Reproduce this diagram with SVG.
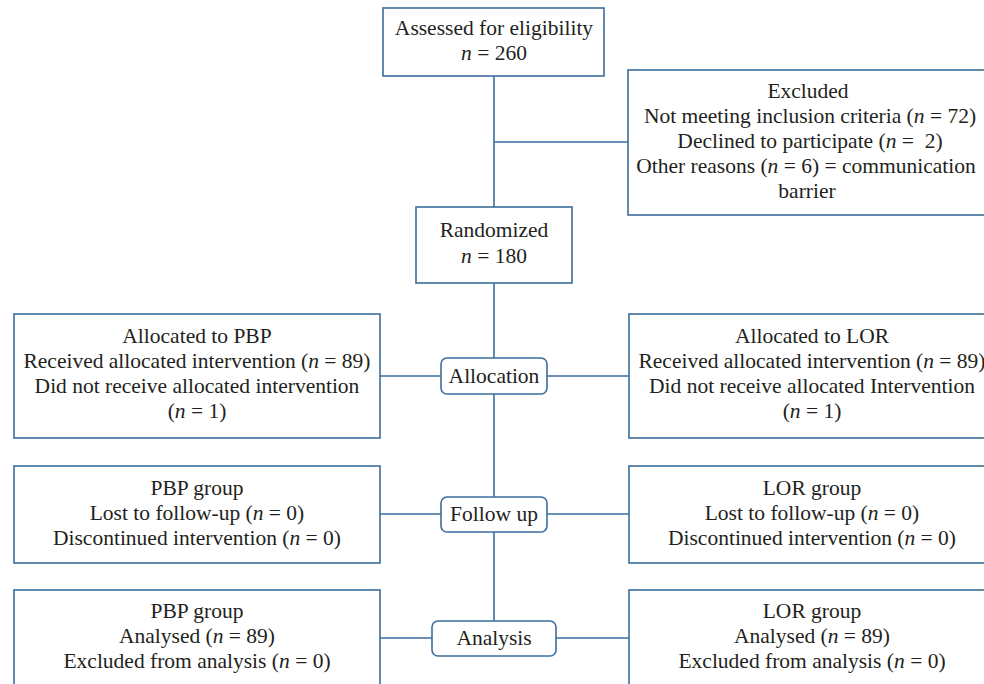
<svg xmlns="http://www.w3.org/2000/svg" width="984" height="684" viewBox="0 0 984 684">
<style>
.box{fill:#fff;stroke:#3b6e9c;stroke-width:1.6}
.pill{fill:#fff;stroke:#3b6e9c;stroke-width:1.6}
.ln{stroke:#3b6e9c;stroke-width:1.6;fill:none}
text{font-family:"Liberation Serif","Times New Roman",serif;font-size:21.5px;fill:#231f20;text-anchor:middle}
.i{font-style:italic}
</style>
<rect width="984" height="684" fill="#fff"/>
<g id="connectors">
<line class="ln" x1="494" y1="76" x2="494" y2="207"/>
<line class="ln" x1="494" y1="142" x2="628" y2="142"/>
<line class="ln" x1="494" y1="283" x2="494" y2="358"/>
<line class="ln" x1="494" y1="394" x2="494" y2="497"/>
<line class="ln" x1="494" y1="532" x2="494" y2="621"/>
<line class="ln" x1="380" y1="376" x2="441" y2="376"/>
<line class="ln" x1="547" y1="376" x2="629" y2="376"/>
<line class="ln" x1="380" y1="514" x2="441" y2="514"/>
<line class="ln" x1="547" y1="514" x2="629" y2="514"/>
<line class="ln" x1="380" y1="638" x2="432" y2="638"/>
<line class="ln" x1="556" y1="638" x2="629" y2="638"/>
</g>
<g id="assessed">
<rect class="box" x="383" y="8" width="221" height="68"/>
<text x="494" y="35">Assessed for eligibility</text>
<text x="494" y="60"><tspan class="i">n</tspan> = 260</text>
</g>
<g id="excluded">
<rect class="box" x="628" y="70" width="366" height="145"/>
<text x="808" y="98">Excluded</text>
<text x="810" y="123">Not meeting inclusion criteria (<tspan class="i">n</tspan> = 72)</text>
<text x="810" y="148">Declined to participate (<tspan class="i">n</tspan> =&#160; 2)</text>
<text x="806" y="173">Other reasons (<tspan class="i">n</tspan> = 6) = communication</text>
<text x="807" y="198">barrier</text>
</g>
<g id="randomized">
<rect class="box" x="416" y="207" width="156" height="76"/>
<text x="494" y="237">Randomized</text>
<text x="494" y="263"><tspan class="i">n</tspan> = 180</text>
</g>
<g id="alloc-pbp">
<rect class="box" x="14" y="314" width="366" height="124"/>
<text x="197" y="343">Allocated to PBP</text>
<text x="197" y="368">Received allocated intervention (<tspan class="i">n</tspan> = 89)</text>
<text x="197" y="393">Did not receive allocated intervention</text>
<text x="197" y="418">(<tspan class="i">n</tspan> = 1)</text>
</g>
<g id="allocation">
<rect class="pill" x="441" y="358" width="106" height="36" rx="6"/>
<text x="494" y="383">Allocation</text>
</g>
<g id="alloc-lor">
<rect class="box" x="629" y="314" width="366" height="124"/>
<text x="812" y="343">Allocated to LOR</text>
<text x="812" y="368">Received allocated intervention (<tspan class="i">n</tspan> = 89)</text>
<text x="812" y="393">Did not receive allocated Intervention</text>
<text x="812" y="418">(<tspan class="i">n</tspan> = 1)</text>
</g>
<g id="follow-pbp">
<rect class="box" x="14" y="466" width="366" height="97"/>
<text x="197" y="495">PBP group</text>
<text x="197" y="520">Lost to follow-up (<tspan class="i">n</tspan> = 0)</text>
<text x="197" y="545">Discontinued intervention (<tspan class="i">n</tspan> = 0)</text>
</g>
<g id="followup">
<rect class="pill" x="441" y="497" width="106" height="35" rx="6"/>
<text x="494" y="521">Follow up</text>
</g>
<g id="follow-lor">
<rect class="box" x="629" y="466" width="366" height="97"/>
<text x="812" y="495">LOR group</text>
<text x="812" y="520">Lost to follow-up (<tspan class="i">n</tspan> = 0)</text>
<text x="812" y="545">Discontinued intervention (<tspan class="i">n</tspan> = 0)</text>
</g>
<g id="analysis-pbp">
<rect class="box" x="14" y="590" width="366" height="110"/>
<text x="197" y="618">PBP group</text>
<text x="197" y="643">Analysed (<tspan class="i">n</tspan> = 89)</text>
<text x="197" y="668">Excluded from analysis (<tspan class="i">n</tspan> = 0)</text>
</g>
<g id="analysis">
<rect class="pill" x="432" y="621" width="124" height="35" rx="6"/>
<text x="494" y="645">Analysis</text>
</g>
<g id="analysis-lor">
<rect class="box" x="629" y="590" width="366" height="110"/>
<text x="812" y="618">LOR group</text>
<text x="812" y="643">Analysed (<tspan class="i">n</tspan> = 89)</text>
<text x="812" y="668">Excluded from analysis (<tspan class="i">n</tspan> = 0)</text>
</g>
</svg>
